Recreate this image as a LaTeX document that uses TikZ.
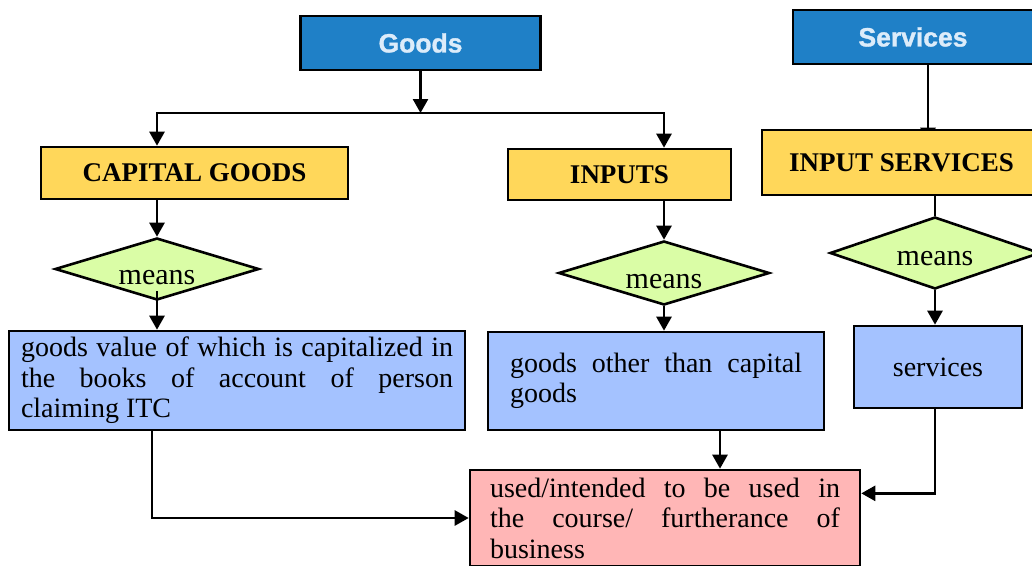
\documentclass[tikz,border=0pt]{standalone}
\usepackage{fontspec}
\setmainfont{Liberation Serif}
\newfontfamily\headfont{Liberation Sans}[UprightFont={* Bold},UprightFeatures={FakeBold=1.2}]
\usetikzlibrary{arrows.meta,positioning,calc,shapes.geometric,backgrounds}
\definecolor{headblue}{RGB}{31,128,199}
\definecolor{headtext}{RGB}{220,236,250}
\definecolor{kindyel}{RGB}{255,215,90}
\definecolor{meangreen}{RGB}{218,253,166}
\definecolor{defblue}{RGB}{164,194,255}
\definecolor{usepink}{RGB}{255,182,182}

\begin{document}
\begin{tikzpicture}[x=1pt,y=-1pt,
  >={Triangle[length=14pt,width=15pt]},
  hd/.style={draw, fill=headblue, line width=2.6pt, minimum width=240pt, minimum height=54pt, inner sep=0pt, text=headtext, font=\headfont\fontsize{26.5}{28}\selectfont},
  kind/.style={draw, fill=kindyel, line width=2.6pt, inner sep=0pt, font=\bfseries\fontsize{27}{28}\selectfont},
  mean/.style={draw, diamond, aspect=3.3, fill=meangreen, line width=2.6pt, inner sep=0pt, text height=30pt, text depth=0pt, font=\fontsize{30}{32}\selectfont},
  defn/.style={draw, fill=defblue, line width=2.6pt, inner sep=0pt, align=justify, font=\fontsize{28}{30.5}\selectfont},
  ed/.style={line width=2.6pt},
]
\useasboundingbox (0,0) rectangle (1032,565);
\clip (0,0) rectangle (1032,565);
\node[hd] (goods) at (420.5,43) {Goods};
\node[hd] (srv)   at (913,37)   {Services};
\node[kind, minimum width=307pt, minimum height=52pt] (cap)   at (194.5,173) {CAPITAL GOODS};
\node[kind, minimum width=223pt, minimum height=51pt] (inp)   at (619.5,174.5) {INPUTS};
\node[kind, minimum width=279pt, minimum height=65pt] (insrv) at (901.5,162.5) {INPUT SERVICES};
\node[mean, minimum width=204pt, minimum height=62pt] (d1) at (157,269) {means};
\node[mean, minimum width=211pt, minimum height=64pt] (d2) at (664,273) {means};
\node[mean, minimum width=210pt, minimum height=72pt, text height=24pt] (d3) at (935,253) {means};
\node[defn, text width=432pt, inner xsep=12pt, minimum height=99pt] (blue1) at (237,380.5)
  {goods value of which is capitalized in\linebreak the books of account of person\linebreak claiming ITC};
\node[defn, text width=292pt, inner xsep=22pt, minimum height=98pt] (blue2) at (656,381)
  {goods other than capital\linebreak goods};
\node[defn, align=center, minimum width=168pt, minimum height=82pt] (blue3) at (938,367) {services};
\node[defn, fill=usepink, text width=350pt, inner xsep=20pt, minimum height=96pt] (pink) at (665,518)
  {used/intended to be used in\linebreak the course/ furtherance of\linebreak business};
\coordinate (fork) at (420.5,113);
\coordinate (b2out) at ($(blue2.south)+(64,0)$);
\coordinate (b1out) at ($(blue1.south)+(-85,0)$);
\draw[ed,->] (goods) -- (fork);
\draw[ed,->] (fork) -| (d1 |- cap.north); \draw[ed,->] (fork) -| (d2 |- inp.north);
\draw[ed,->] (d1 |- cap.south) -- (d1.north); \draw[ed,->] (d2 |- inp.south) -- (d2.north);
\draw[ed] (d3 |- insrv.south) -- (d3.north);
\draw[ed,->] ($(d1.south)+(0,-10)$) -- (d1 |- blue1.north);
\draw[ed,->] (d2.south) -- (d2 |- blue2.north);
\draw[ed,->] (d3.south) -- (d3 |- blue3.north);
\draw[ed,->] (b1out) |- (pink.west);
\draw[ed,->] (b2out) -- (b2out |- pink.north);
\draw[ed,->] (d3 |- blue3.south) |- ($(pink.north east)!0.25!(pink.south east)$);
\begin{scope}[on background layer]
\draw[ed,->,shorten >=-13pt] ($(srv.south)+(15,0)$) -- ($(insrv.north)+(26.5,0)$);
\end{scope}
\end{tikzpicture}
\end{document}
